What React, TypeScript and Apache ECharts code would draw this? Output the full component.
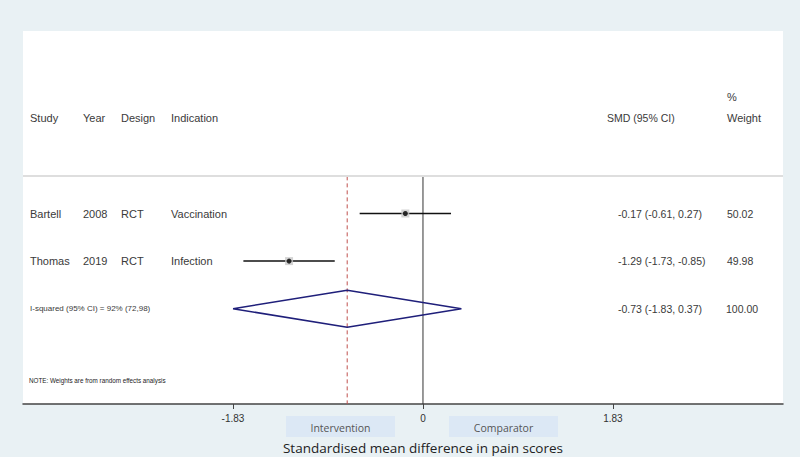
import React, { useEffect, useRef } from "react";
import * as echarts from "echarts";

const studies = ["Bartell", "Thomas"];
const years = ["2008", "2019"];
const designs = ["RCT", "RCT"];
const indications = ["Vaccination", "Infection"];
const smd = [-0.17, -1.29];
const ciLow = [-0.61, -1.73];
const ciHigh = [0.27, -0.85];
const weights = ["50.02", "49.98"];
const smdText = ["-0.17 (-0.61, 0.27)", "-1.29 (-1.73, -0.85)"];
const pooled = { est: -0.73, lo: -1.83, hi: 0.37, text: "-0.73 (-1.83, 0.37)", weight: "100.00" };
const heterogeneity = "I-squared (95% CI) = 92% (72,98)";
const note = "NOTE: Weights are from random effects analysis";
const tickValues = [-1.83, 0, 1.83];
const headers = ["Study", "Year", "Design", "Indication"];

export default function App() {
  const ref = useRef<HTMLDivElement>(null);
  useEffect(() => {
    const chart = echarts.init(ref.current!, undefined, { renderer: "svg" });
    const font = "'Liberation Sans', Arial, sans-serif";
    const rowY = (i: number) => 213.5 + i * 47.6;
    const txt = (x: number, y: number, s: string, size = 11, extra: any = {}) => ({
      type: "text",
      x,
      y,
      style: { text: s, fill: "#3a3a3a", font: `${size}px ${font}`, textVerticalAlign: "middle", ...extra },
      z: 10,
    });
    const graphics: any[] = [];
    const colX = [30, 83, 121, 171];
    headers.forEach((h, j) => graphics.push(txt(colX[j], 118, h)));
    graphics.push(txt(607, 118, "SMD (95% CI)", 10.5));
    graphics.push(txt(727, 118, "Weight"));
    graphics.push(txt(727, 97, "%"));
    studies.forEach((s, i) => {
      const y = rowY(i);
      graphics.push(txt(colX[0], y, s));
      graphics.push(txt(colX[1], y, years[i]));
      graphics.push(txt(colX[2], y, designs[i]));
      graphics.push(txt(colX[3], y, indications[i]));
      graphics.push(txt(618, y, smdText[i], 10.5));
      graphics.push(txt(727, y, weights[i], 10.5));
    });
    graphics.push(txt(30, rowY(2), heterogeneity, 8));
    graphics.push(txt(618, rowY(2), pooled.text, 10.5));
    graphics.push(txt(726, rowY(2), pooled.weight, 10.5));
    graphics.push(txt(29, 380, note, 6.3, { fill: "#222" }));
    graphics.push({
      type: "line",
      shape: { x1: 23, y1: 176, x2: 783, y2: 176 },
      style: { stroke: "#dedede", lineWidth: 2 },
      z: 5,
    });
    const box = (x: number, label: string) => ({
      type: "group",
      children: [
        { type: "rect", shape: { x, y: 416, width: 109, height: 21 }, style: { fill: "#dce8f5" } },
        {
          type: "text",
          x: x + 54.5,
          y: 428,
          style: {
            text: label,
            fill: "#555",
            font: "10.5px 'Open Sans', sans-serif",
            textAlign: "center",
            textVerticalAlign: "middle",
          },
        },
      ],
    });
    graphics.push(box(286, "Intervention"));
    graphics.push(box(449, "Comparator"));
    graphics.push({
      type: "text",
      x: 423,
      y: 448,
      style: {
        text: "Standardised mean difference in pain scores",
        fill: "#222",
        font: "13.5px 'Open Sans', sans-serif",
        textAlign: "center",
        textVerticalAlign: "middle",
      },
    });

    const topRow = -0.78;
    const bottomRow = 4.002;
    const series: any[] = [];
    series.push({
      type: "line",
      data: [[0, topRow], [0, bottomRow]],
      symbol: "none",
      lineStyle: { color: "#333", width: 1 },
      z: 2,
    });
    series.push({
      type: "line",
      data: [[pooled.est, topRow], [pooled.est, bottomRow]],
      symbol: "none",
      lineStyle: { color: "#c0504d", width: 1, type: [4, 3] },
      z: 2,
    });
    studies.forEach((_, i) => {
      series.push({
        type: "line",
        data: [[ciLow[i], i], [ciHigh[i], i]],
        symbol: "none",
        lineStyle: { color: "#111", width: 1.5 },
        z: 3,
      });
    });
    series.push({
      type: "scatter",
      data: smd.map((v, i) => [v, i]),
      symbol: "rect",
      symbolSize: 8,
      itemStyle: { color: "#c8c8c8" },
      z: 4,
    });
    series.push({
      type: "scatter",
      data: smd.map((v, i) => [v, i]),
      symbol: "circle",
      symbolSize: 5,
      itemStyle: { color: "#000" },
      z: 5,
    });
    const r = 2;
    series.push({
      type: "line",
      data: [
        [pooled.lo, r],
        [pooled.est, r - 0.39],
        [pooled.hi, r],
        [pooled.est, r + 0.39],
        [pooled.lo, r],
      ],
      symbol: "none",
      lineStyle: { color: "#1f1f7a", width: 1.5 },
      z: 4,
    });

    chart.setOption({
      animation: false,
      backgroundColor: "#e9f1f4",
      grid: {
        left: 23,
        right: 17,
        top: 31,
        bottom: 53,
        show: true,
        backgroundColor: "#ffffff",
        borderWidth: 0,
      },
      xAxis: {
        type: "value",
        min: -3.853,
        max: 3.468,
        axisLine: { show: true, onZero: false, lineStyle: { color: "#444", width: 1.5 } },
        axisTick: { show: true, customValues: tickValues, length: 5, lineStyle: { color: "#444" } },
        axisLabel: {
          customValues: tickValues,
          formatter: (v: number) => String(v),
          color: "#333",
          fontSize: 10,
          fontFamily: "'Liberation Sans Narrow', 'Liberation Sans', sans-serif",
          margin: 9,
        },
        splitLine: { show: false },
      },
      yAxis: {
        type: "value",
        inverse: true,
        min: -3.834,
        max: 4.002,
        show: false,
      },
      series,
      graphic: graphics,
    });
    return () => chart.dispose();
  }, []);
  return (
    <div
      ref={ref}
      style={{ position: "fixed", left: 0, top: 0, width: 800, height: 457 }}
    />
  );
}
